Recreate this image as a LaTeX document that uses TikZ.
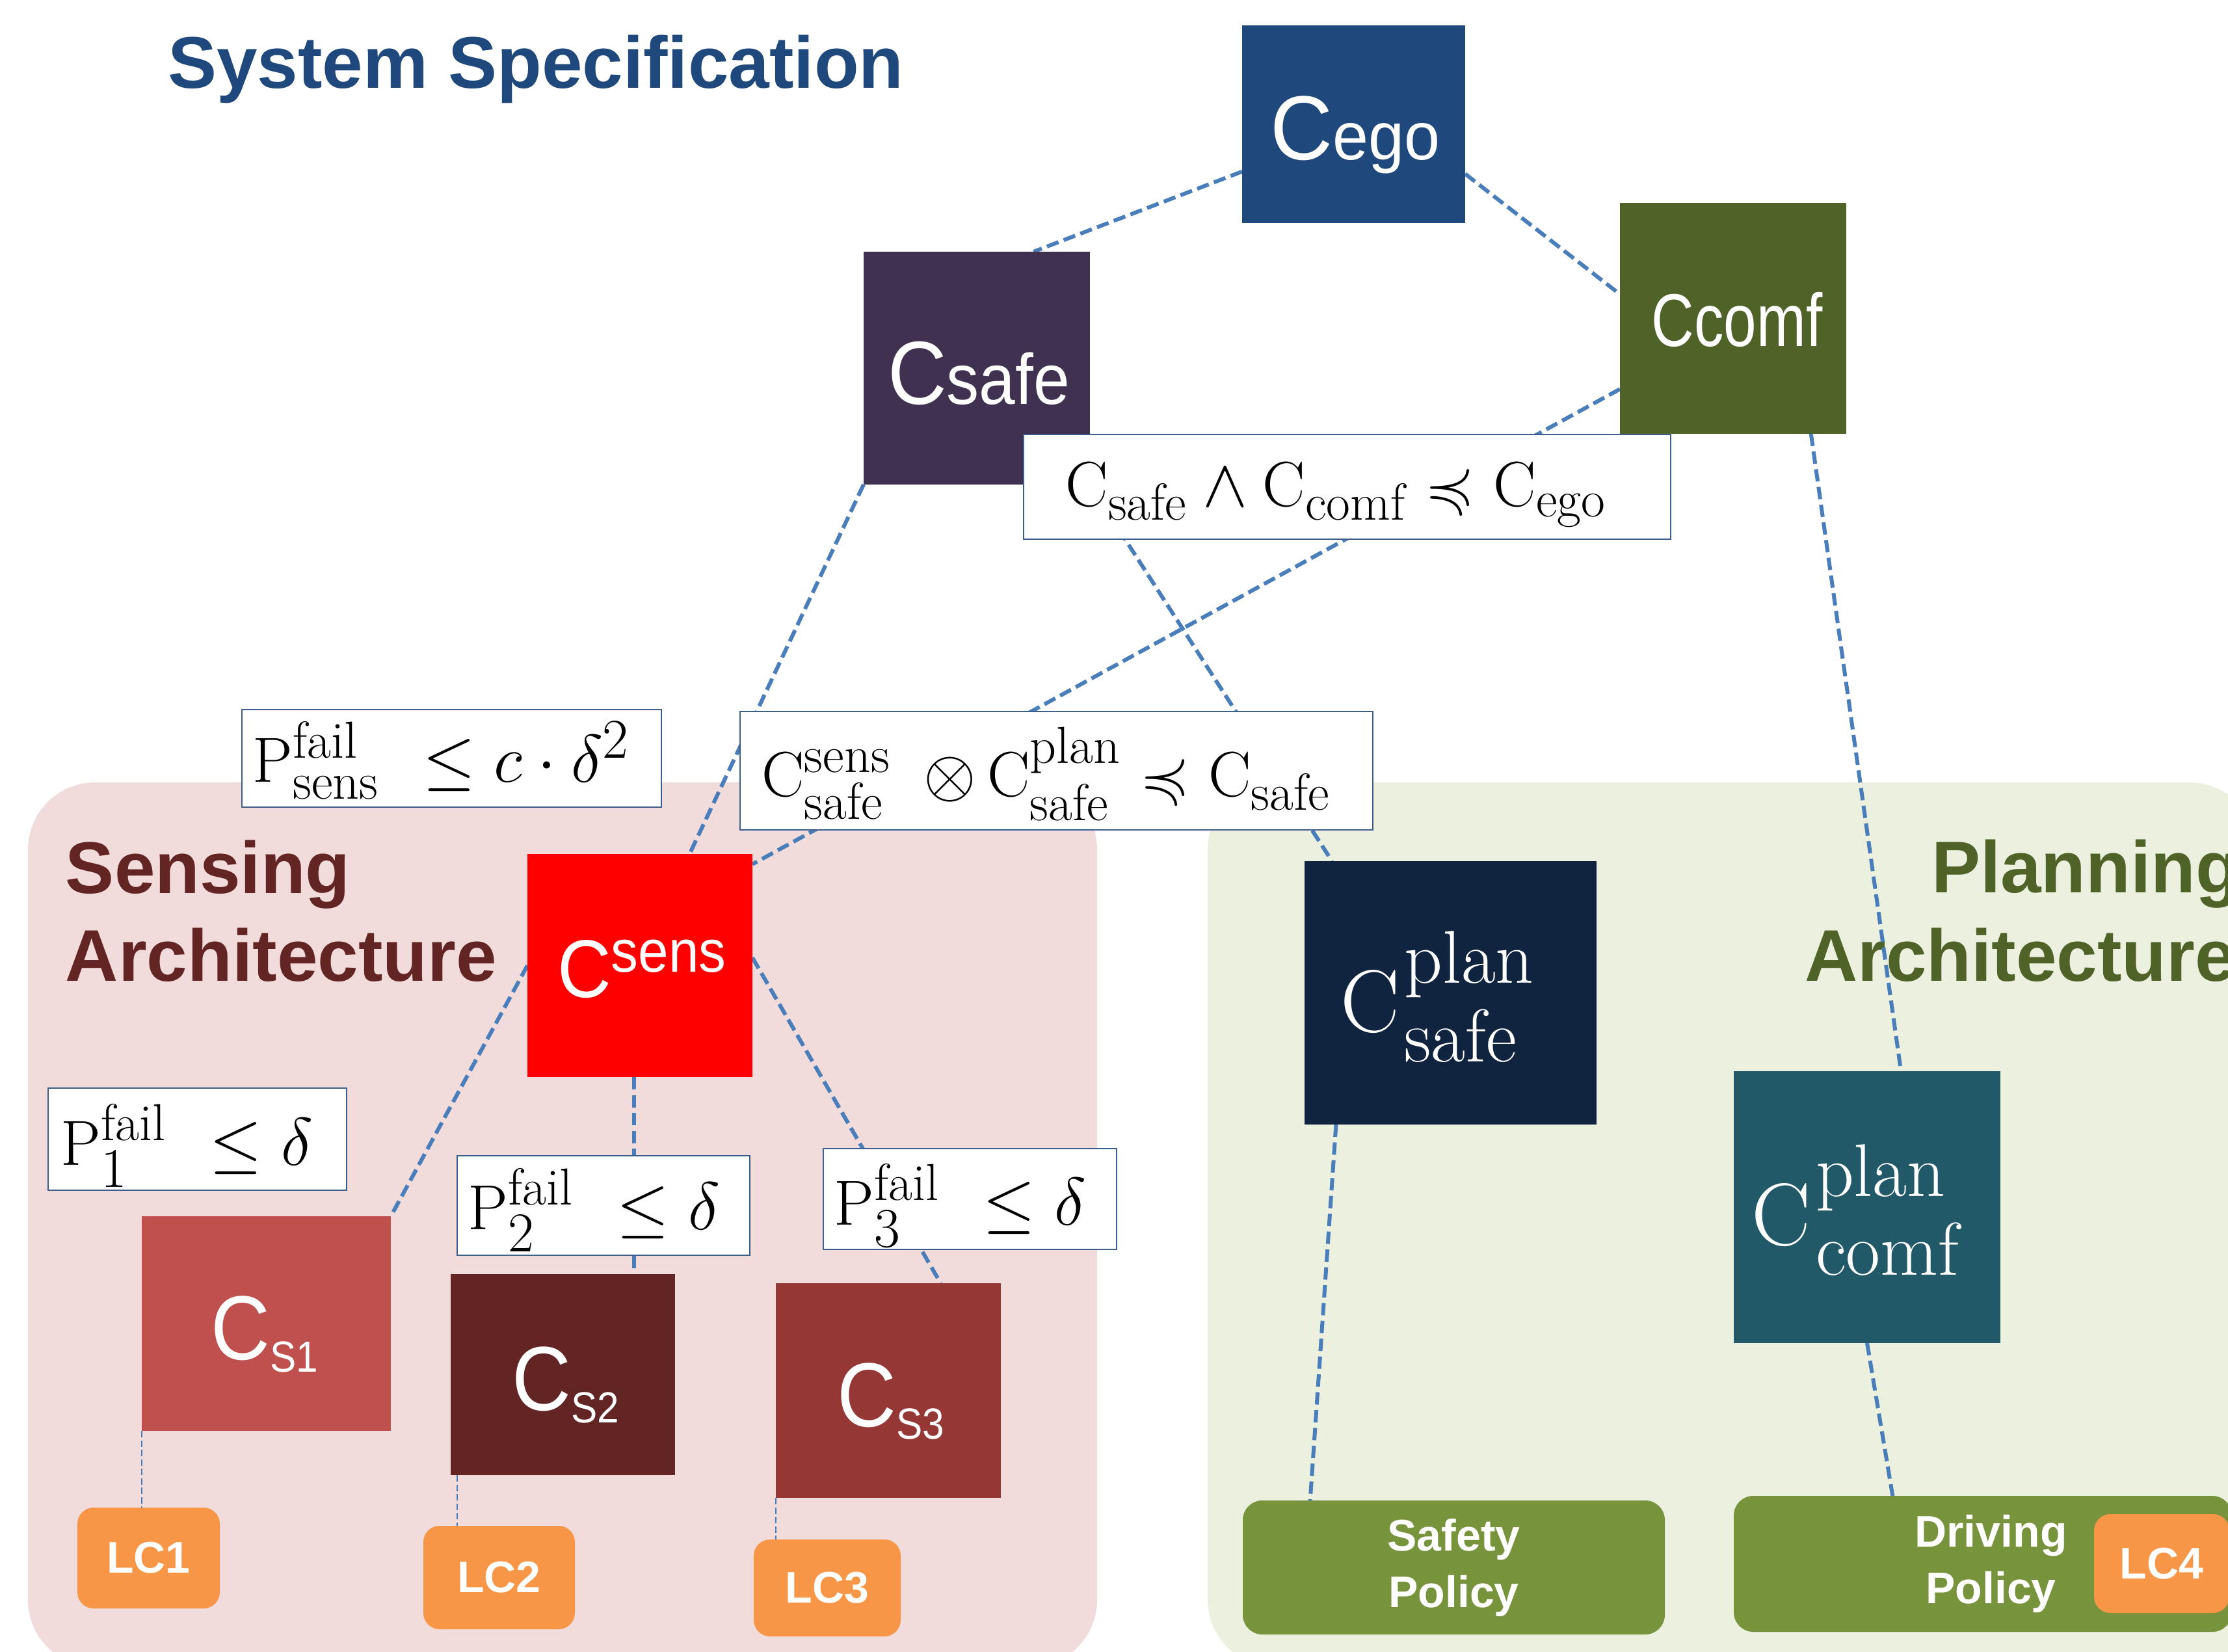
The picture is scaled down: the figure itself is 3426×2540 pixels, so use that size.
\documentclass[tikz,border=0pt]{standalone}
\usepackage{fontspec}
\usepackage{amssymb}
\usepackage{graphicx}
\newfontfamily\arial{Liberation Sans}
\DeclareMathSizes{19.6}{19.6}{16}{12}
\definecolor{egoblue}{HTML}{1F497D}
\definecolor{safepurple}{HTML}{403151}
\definecolor{comfolive}{HTML}{4F6228}
\definecolor{sensred}{HTML}{632523}
\definecolor{cs1c}{HTML}{C0504D}
\definecolor{cs2c}{HTML}{632523}
\definecolor{cs3c}{HTML}{953735}
\definecolor{lcorange}{HTML}{F79646}
\definecolor{cpsc}{HTML}{11243F}
\definecolor{cpcc}{HTML}{215968}
\definecolor{polgreen}{HTML}{77933C}
\definecolor{sensbg}{HTML}{F2DCDB}
\definecolor{planbg}{HTML}{EBF1DE}
\definecolor{connblue}{HTML}{4A7EBB}
\definecolor{consborder}{HTML}{3B5E8C}
\pgfdeclarelayer{bg}
\pgfdeclarelayer{lines}
\pgfsetlayers{bg,lines,main}
\newcommand\planlbl[2]{{\fontsize{27.2}{27.2}\selectfont C}\kern1.5pt\raisebox{-9.2pt}{\fontsize{23}{24.2}\selectfont\begin{tabular}[b]{@{}l@{}}#1\\#2\end{tabular}}}
\begin{document}
\begin{tikzpicture}[x=0.2pt,y=-0.2pt,
  box/.style={rectangle,inner sep=0pt,outer sep=0pt,draw=none},
  cons/.style={rectangle,inner sep=0pt,outer sep=0pt,fill=white,draw=consborder,line width=0.55pt},
  lc/.style={rectangle,rounded corners=5pt,inner sep=0pt,outer sep=0pt,fill=lcorange,text=white,font=\arial\bfseries\fontsize{13.6}{16}\selectfont},
  pol/.style={rectangle,rounded corners=6pt,inner sep=0pt,outer sep=0pt,fill=polgreen,text=white,align=center,font=\arial\bfseries\fontsize{13.6}{17.4}\selectfont},
  ttl/.style={inner sep=0pt,outer sep=0pt,font=\arial\bfseries\fontsize{22.5}{27}\selectfont},
  lbl/.style={inner sep=0pt,outer sep=0pt,text=white,font=\arial},
  mlbl/.style={inner sep=0pt,outer sep=0pt,text=black,font=\fontsize{19.6}{23}\selectfont},
  plbl/.style={inner sep=0pt,outer sep=0pt,text=white},
  conn/.style={draw=connblue,line width=1.2pt,dash pattern=on 3.8pt off 1.7pt},
  thinconn/.style={draw=connblue,line width=0.55pt,dash pattern=on 2pt off 0.9pt}]
\useasboundingbox (0,0) rectangle (3426,2540);
\clip (0,0) rectangle (3426,2540);

% regions and titles
\begin{pgfonlayer}{bg}
\fill[sensbg,rounded corners=20.6pt] (43,1203) rectangle (1687,2563);
\fill[planbg,rounded corners=20.6pt] (1857,1203) rectangle (3470,2563);
\node[ttl,text=egoblue,anchor=base west] (systitle) at (258,136) {System Specification};
\node[ttl,text=sensred,anchor=base west] (senst1) at (101,1374) {Sensing};
\node[ttl,text=sensred,anchor=base west] (senst2) at (101,1509) {Architecture};
\node[ttl,text=comfolive,anchor=base west] (plant1) at (2970,1373) {Planning};
\node[ttl,text=comfolive,anchor=base west] (plant2) at (2775,1509) {Architecture};
\end{pgfonlayer}

% boxes
\node[box,fill=egoblue,minimum width=68.6pt,minimum height=60.8pt] (cego) at (2081.5,191) {};
\node[box,fill=safepurple,minimum width=69.6pt,minimum height=71.6pt] (csafe) at (1502,566) {};
\node[box,fill=comfolive,minimum width=69.6pt,minimum height=71pt] (ccomf) at (2665,489.5) {};
\node[cons,minimum width=199pt,minimum height=32.2pt] (k1) at (2071.5,748.5) {};
\node[cons,minimum width=194.6pt,minimum height=36.4pt] (k2) at (1624.5,1185) {};
\node[cons,minimum width=129pt,minimum height=30pt] (ksens) at (694.5,1166) {};
\node[box,fill=red,minimum width=69.2pt,minimum height=68.6pt] (csens) at (984,1484.5) {};
\node[cons,minimum width=91.8pt,minimum height=31.4pt] (p1) at (303.5,1751.5) {};
\node[cons,minimum width=90pt,minimum height=30.6pt] (p2) at (928,1853.5) {};
\node[cons,minimum width=90.2pt,minimum height=31pt] (p3) at (1491.5,1843.5) {};
\node[box,fill=cs1c,minimum width=76.6pt,minimum height=66pt] (cs1) at (409.5,2035) {};
\node[box,fill=cs2c,minimum width=69pt,minimum height=61.8pt] (cs2) at (865.5,2113.5) {};
\node[box,fill=cs3c,minimum width=69.2pt,minimum height=66pt] (cs3) at (1366,2138) {};
\node[lc,minimum width=43.8pt,minimum height=31pt] (lc1) at (228.5,2395.5) {LC1};
\node[lc,minimum width=46.6pt,minimum height=31.8pt] (lc2) at (767.5,2425.5) {LC2};
\node[lc,minimum width=45.2pt,minimum height=29.8pt] (lc3) at (1272,2441.5) {LC3};
\node[box,fill=cpsc,minimum width=89.8pt,minimum height=81pt] (cps) at (2230.5,1526.5) {};
\node[box,fill=cpcc,minimum width=82pt,minimum height=83.6pt] (cpc) at (2871,1856) {};
\node[pol,minimum width=129.8pt,minimum height=41.2pt] (safety) at (2235.5,2410) {Safety\\Policy};
\node[pol,minimum width=153.2pt,minimum height=41.8pt] (driving) at (3049,2404.5) {\hspace*{5pt}Driving\\\hspace*{5pt}Policy};
\node[lc,minimum width=41.6pt,minimum height=30.4pt] (lc4) at (3324,2404) {LC4};

% connectors
\begin{pgfonlayer}{lines}
\draw[conn] (cego.203.5) -- (csafe.64.8);
\draw[conn] (cego.336.8) -- (ccomf.168.1);
\draw[conn] (ccomf.212.6) -- (csens.42.7);
\draw[conn] (csafe.south west) -- (csens.66.7);
\draw[conn] (csafe.south east) -- (cps.132.8);
\draw[conn] (ccomf.304.7) -- (cpc.76.8);
\draw[conn] (csens.west) -- (cs1.north east);
\draw[conn] ([xshift=-1.8pt]csens.south) -- ([xshift=-1.8pt]csens.south |- cs2.north);
\draw[conn] (csens.4.5) -- (cs3.64.1);
\draw[conn] (cps.229.7) -- (safety.155.7);
\draw[conn] (cpc.south) -- (driving.143.4);
\draw[thinconn] (cs1.south west) -- (cs1.south west |- lc1.north);
\draw[thinconn] ([xshift=2pt]cs2.south west) -- ([xshift=2pt]cs2.south west |- lc2.north);
\draw[thinconn] (cs3.south west) -- (cs3.south west |- lc3.north);
\end{pgfonlayer}

% labels
\node[lbl,anchor=base] (cego-t) at (2084,246) {\scalebox{0.95}[1]{\fontsize{28}{28}\selectfont C\fontsize{20.8}{20.8}\selectfont ego}};
\node[lbl,anchor=base] (csafe-t) at (1505,622) {\scalebox{0.91}[1]{\fontsize{27.6}{28}\selectfont C\fontsize{22}{22}\selectfont safe}};
\node[lbl,anchor=base] (ccomf-t) at (2671,533) {\scalebox{0.79}[1]{\fontsize{23}{23}\selectfont Ccomf}};
\node[lbl,anchor=base] (csens-t) at (987,1534) {\scalebox{0.91}[1]{\fontsize{25.2}{26}\selectfont C\raisebox{7.8pt}{\fontsize{18.4}{19}\selectfont sens}}};
\node[lbl,anchor=base] (cs1-t) at (407,2090) {\scalebox{0.9}[1]{\fontsize{28}{28}\selectfont C\raisebox{-3.8pt}{\fontsize{13.4}{14}\selectfont S1}}};
\node[lbl,anchor=base] (cs2-t) at (870,2168) {\scalebox{0.9}[1]{\fontsize{28}{28}\selectfont C\raisebox{-3.8pt}{\fontsize{13.4}{14}\selectfont S2}}};
\node[lbl,anchor=base] (cs3-t) at (1370,2193) {\scalebox{0.9}[1]{\fontsize{28}{28}\selectfont C\raisebox{-3.8pt}{\fontsize{13.4}{14}\selectfont S3}}};
\node[plbl,anchor=base] (cps-t) at (2210,1587) {\planlbl{plan}{safe}};
\node[plbl,anchor=base] (cpc-t) at (2853,1914) {\planlbl{plan}{comf}};
\node[mlbl,anchor=base] (k1-t) at (2054.5,779) {$\mathrm{C}_{\mathrm{safe}}\wedge\mathrm{C}_{\mathrm{comf}}\preccurlyeq\mathrm{C}_{\mathrm{ego}}$};
\node[mlbl,anchor=base] (k2-t) at (1609,1225) {$\mathrm{C}^{\mathrm{sens}}_{\mathrm{safe}}\kern10pt{\otimes}\,\mathrm{C}^{\mathrm{plan}}_{\mathrm{safe}}\preccurlyeq\mathrm{C}_{\mathrm{safe}}$};
\node[mlbl,anchor=base] (ksens-t) at (679,1203) {$\mathrm{P}^{\mathrm{fail}}_{\mathrm{sens}}\kern7.5pt\le c\cdot\delta^{2}$};
\node[mlbl,anchor=base] (p1-t) at (287.5,1791) {$\mathrm{P}^{\mathrm{fail}}_{1}\kern7.5pt\le\delta$};
\node[mlbl,anchor=base] (p2-t) at (913.5,1890) {$\mathrm{P}^{\mathrm{fail}}_{2}\kern7.5pt\le\delta$};
\node[mlbl,anchor=base] (p3-t) at (1476.5,1883) {$\mathrm{P}^{\mathrm{fail}}_{3}\kern7.5pt\le\delta$};
\end{tikzpicture}
\end{document}
